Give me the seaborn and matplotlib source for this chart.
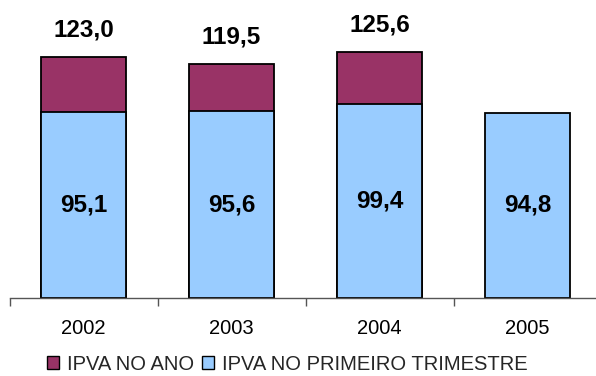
import matplotlib
matplotlib.use("Agg")
import matplotlib.pyplot as plt
import seaborn as sns
import numpy as np
import pandas as pd
from matplotlib.patches import Patch

years = ["2002", "2003", "2004", "2005"]
ipva_ano = [123.0, 119.5, 125.6, np.nan]
ipva_trimestre = [95.1, 95.6, 99.4, 94.8]
series_names = ["IPVA NO ANO", "IPVA NO PRIMEIRO TRIMESTRE"]

sns.set_theme(style="white")
plt.rcParams["font.family"] = ["Liberation Sans", "DejaVu Sans"]

c_ano = "#993366"
c_tri = "#99CCFF"

df = pd.DataFrame({"ano": years, "total": ipva_ano, "tri": ipva_trimestre})

fig = plt.figure(figsize=(5.96, 3.76), dpi=100)
ax = fig.add_axes([9.5 / 596, 78 / 376, 592 / 596, 298 / 376])

sns.barplot(data=df, x="ano", y="total", color=c_ano, saturation=1, width=0.57,
            edgecolor="black", linewidth=1.3, ax=ax)
sns.barplot(data=df, x="ano", y="tri", color=c_tri, saturation=1, width=0.57,
            edgecolor="black", linewidth=1.3, ax=ax)

ax.set_ylim(0, 152.4)
ax.set_xlim(-0.5, 3.5)
ax.set_xlabel("")
ax.set_ylabel("")
ax.set_yticks([])
for s in ["top", "right", "left"]:
    ax.spines[s].set_visible(False)
ax.spines["bottom"].set_color("#555555")
ax.spines["bottom"].set_linewidth(1.0)

ax.set_xticks(np.arange(-0.5, 4.0, 1.0), minor=True)
ax.tick_params(axis="x", which="minor", length=6, width=1.0, color="#555555", direction="out", bottom=True)
ax.tick_params(axis="x", which="major", length=0, pad=15, labelsize=14.5, colors="black")

def fmt(v):
    return f"{v:.1f}".replace(".", ",")

for i, (t, b) in enumerate(zip(ipva_ano, ipva_trimestre)):
    ax.text(i, b / 2, fmt(b), ha="center", va="center", fontsize=17.5, fontweight="bold", color="black")
    if not np.isnan(t):
        ax.annotate(fmt(t), (i, t), xytext=(0, 20), textcoords="offset points",
                    ha="center", va="center", fontsize=17.5, fontweight="bold", color="black")

handles = [Patch(facecolor=c_ano, edgecolor="black", linewidth=1.0),
           Patch(facecolor=c_tri, edgecolor="black", linewidth=1.0)]
fig.legend(handles, series_names, loc="center", bbox_to_anchor=(0.482, 1 - 364 / 376),
           ncol=2, frameon=False, fontsize=14.5, handlelength=0.6, handleheight=0.6,
           handletextpad=0.4, columnspacing=0.4, borderpad=0)

fig.savefig("out.png", dpi=100)
